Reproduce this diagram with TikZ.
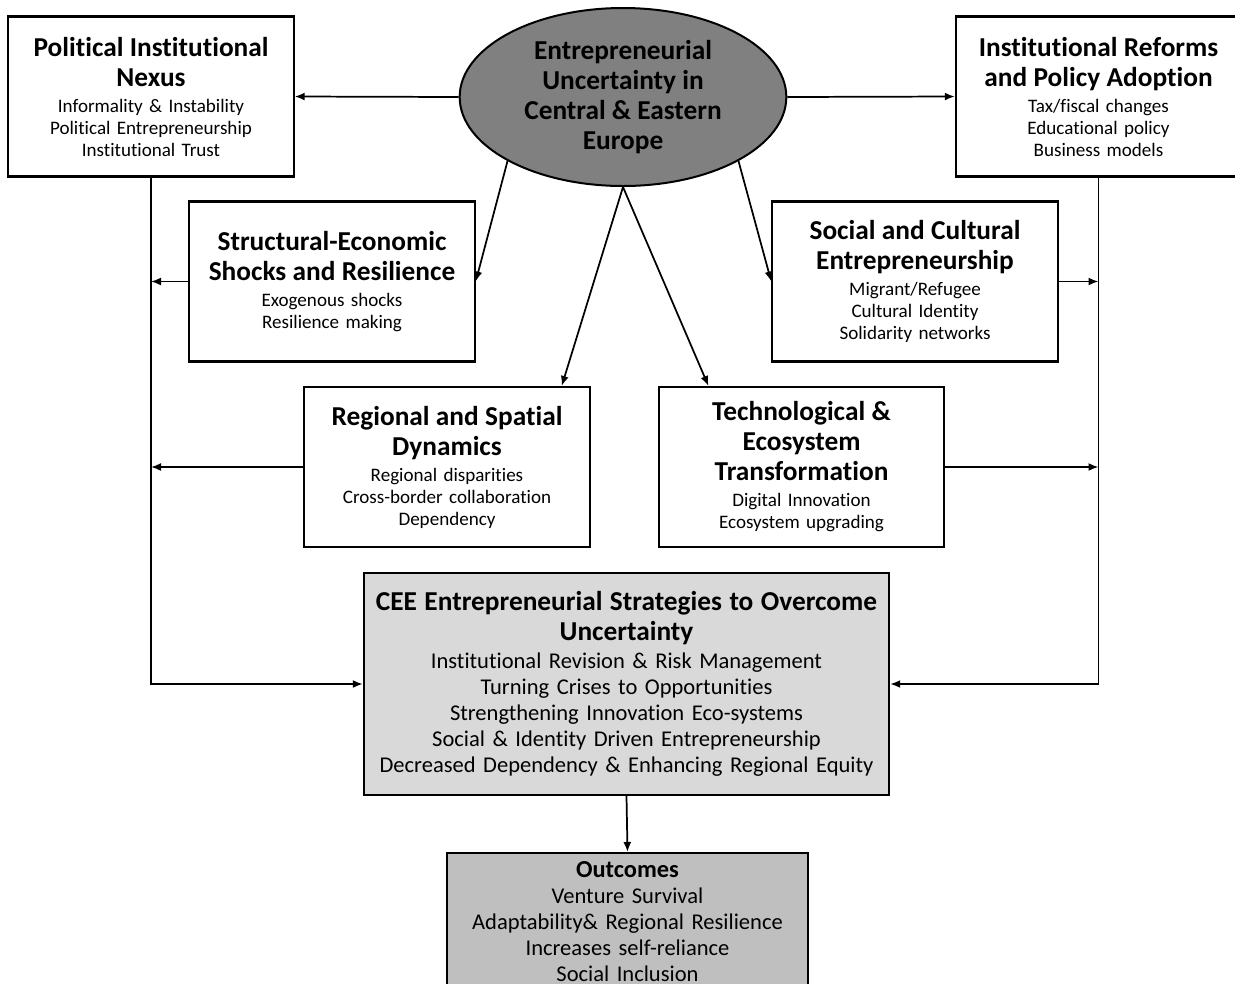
\documentclass[tikz,border=0pt]{standalone}
\usepackage{fontspec}
\setmainfont{Carlito}[Ligatures=NoCommon]
\usetikzlibrary{shapes.geometric, arrows.meta}
\setlength{\parindent}{0pt}

\newcommand{\headfont}{\fontsize{20.5}{22.5}\selectfont\bfseries}
\newcommand{\itemfont}{\fontsize{14.3}{16.5}\selectfont}
\newcommand{\listfont}{\fontsize{16.9}{19.5}\selectfont}
\newcommand{\boxhead}[2][3pt]{{\headfont #2\par}\vspace{#1}}

\begin{document}
\begin{tikzpicture}[
  x=0.75pt, y=-0.75pt,
  every node/.style={font=\itemfont},
  hub/.style={ellipse, draw=black, line width=1.5pt, fill=black!50,
              minimum width=245pt, minimum height=133.5pt, inner sep=0pt,
              align=center, font=\headfont},
  factor/.style={rectangle, draw=black, line width=1.6pt, minimum width=214pt,
                 minimum height=120pt, text width=208pt, inner sep=0pt,
                 align=center},
  strategy/.style={rectangle, draw=black, line width=1.6pt, fill=black!15,
                   minimum width=394pt, minimum height=166.5pt, text width=392pt,
                   inner sep=0pt, align=center, font=\listfont},
  outcome/.style={rectangle, draw=black, line width=1.6pt, fill=black!25,
                  minimum width=271pt, text width=265pt, inner xsep=0pt,
                  inner ysep=6.5pt, align=center, font=\listfont},
  arrow/.style={-{Latex[length=7.5pt, width=6pt]}, line width=1.3pt}
]
  \useasboundingbox (0,0) rectangle (1235,983);

  % Source of uncertainty
  \node[hub] (uncert) at (623,97)
    {Entrepreneurial\\Uncertainty in\\Central \& Eastern\\Europe};

  % Six factor boxes
  \node[factor] (political) at (151,96.5)
    {\boxhead{Political Institutional\\Nexus}
     Informality \& Instability\\Political Entrepreneurship\\Institutional Trust};

  \node[factor] (reforms) at (1098.5,96.5)
    {\boxhead{Institutional Reforms\\and Policy Adoption}
     Tax/fiscal changes\\Educational policy\\Business models};

  \node[factor] (shocks) at (332,281.5)
    {\boxhead{Structural-Economic\\Shocks and Resilience}
     Exogenous shocks\\Resilience making};

  \node[factor] (social) at (915,281.5)
    {\boxhead{Social and Cultural\\Entrepreneurship}
     Migrant/Refugee\\Cultural Identity\\Solidarity networks};

  \node[factor] (regional) at (447,467)
    {\boxhead{Regional and Spatial\\Dynamics}
     Regional disparities\\Cross-border collaboration\\Dependency};

  \node[factor] (tech) at (801.5,467)
    {\boxhead{Technological \&\\Ecosystem\\Transformation}
     Digital Innovation\\Ecosystem upgrading};

  % Strategies and outcomes
  \node[strategy] (strategies) at (626.5,684)
    {\boxhead[1pt]{CEE Entrepreneurial Strategies to Overcome\\Uncertainty}
     Institutional Revision \& Risk Management\\
     Turning Crises to Opportunities\\
     Strengthening Innovation Eco-systems\\
     Social \& Identity Driven Entrepreneurship\\
     Decreased Dependency \& Enhancing Regional Equity};

  \node[outcome, anchor=north] (outcomes) at (627.5,852)
    {{\fontsize{18.3}{19.5}\selectfont\bfseries Outcomes}\\Venture Survival\\
     Adaptability\& Regional Resilience\\Increases self-reliance\\
     Social Inclusion\rule[-30pt]{0pt}{0pt}};

  % Arrows
  \draw[arrow] (uncert.west) -- (political.east);
  \draw[arrow] (uncert.east) -- (reforms.west);
  \draw[arrow] (uncert.209) -- (shocks.east);
  \draw[arrow] (uncert.331) -- (social.west);
  \draw[arrow] (uncert.south) -- ([xshift=-21.75pt]regional.north east);
  \draw[arrow] (uncert.south) -- ([xshift=38pt]tech.north west);
  \draw[arrow] (political.south) |- (strategies.west);
  \draw[arrow] (reforms.south) |- (strategies.east);
  \draw[arrow] (shocks.west) -- (shocks.west -| political.south);
  \draw[arrow] (regional.west) -- (regional.west -| political.south);
  \draw[arrow] (social.east) -- (social.east -| reforms.south);
  \draw[arrow] (tech.east) -- (tech.east -| reforms.south);
  \draw[arrow] (strategies.south) -- (outcomes.north);
\end{tikzpicture}
\end{document}
